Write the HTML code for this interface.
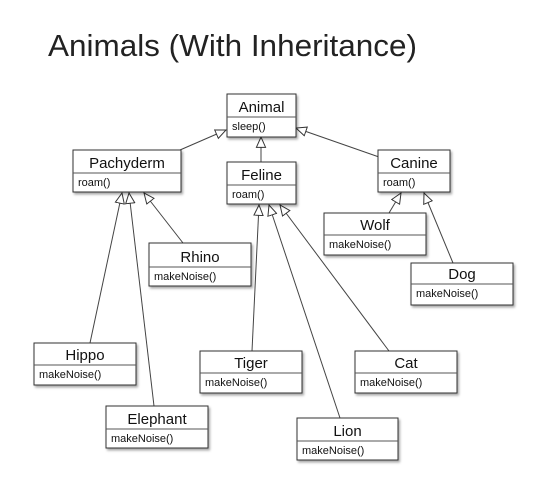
<!DOCTYPE html>
<html><head><meta charset="utf-8"><style>
html,body{margin:0;padding:0;background:#fff;}
svg{display:block;font-family:"Liberation Sans",Arial,sans-serif;}
</style></head><body>
<svg width="547" height="499" viewBox="0 0 547 499">
<defs>
<marker id="tri" markerWidth="12" markerHeight="12" refX="10" refY="5" orient="auto" markerUnits="userSpaceOnUse" viewBox="0 0 11 10">
<path d="M0.5,0.8 L10,5 L0.5,9.2 Z" fill="#fff" stroke="#333" stroke-width="0.9"/>
</marker>
<filter id="sh" x="-10%" y="-10%" width="130%" height="140%"><feDropShadow dx="1.5" dy="2" stdDeviation="1.2" flood-color="#000" flood-opacity="0.35"/></filter>
</defs>
<text x="48" y="56" font-size="31" fill="#222" textLength="369" lengthAdjust="spacingAndGlyphs">Animals (With Inheritance)</text>
<g id="links" stroke="#444" stroke-width="1" fill="none"></g>
<g id="boxes"></g>
<script>
const classes=[
["Animal","sleep()",227,94,296,137,117],
["Pachyderm","roam()",73,150,181,192,173],
["Feline","roam()",227,162,296,204,185],
["Canine","roam()",378,150,450,192,173],
["Wolf","makeNoise()",324,213,426,255,235],
["Rhino","makeNoise()",149,243,251,286,267],
["Dog","makeNoise()",411,263,513,305,284],
["Hippo","makeNoise()",34,343,136,385,365],
["Tiger","makeNoise()",200,351,302,393,373],
["Cat","makeNoise()",355,351,457,393,373],
["Elephant","makeNoise()",106,406,208,448,429],
["Lion","makeNoise()",297,418,398,460,441]
];
const links=[
[180,150,226,130],[261,162,261,137],[379,157,296,128],
[183,243,144,193],[90,343,122,193],[154,406,129,193],
[252,351,259,205],[340,418,269,205],[389,351,280,205],
[389,213,401,193],[453,263,424,193]
];
const NS="http://www.w3.org/2000/svg";
const lg=document.getElementById('links');
links.forEach(l=>{
const p=document.createElementNS(NS,'line');
p.setAttribute('x1',l[0]);p.setAttribute('y1',l[1]);p.setAttribute('x2',l[2]);p.setAttribute('y2',l[3]);
p.setAttribute('marker-end','url(#tri)');


lg.appendChild(p);
});
const bg=document.getElementById('boxes');
classes.forEach(c=>{
const [n,m,x1,y1,x2,y2,d]=c;
const g=document.createElementNS(NS,'g');


const r=document.createElementNS(NS,'rect');
r.setAttribute('x',x1);r.setAttribute('y',y1);r.setAttribute('width',x2-x1);r.setAttribute('height',y2-y1);
r.setAttribute('fill','#fff');r.setAttribute('stroke','#333');r.setAttribute('stroke-width','1');r.setAttribute('filter','url(#sh)');
g.appendChild(r);
const ln=document.createElementNS(NS,'line');
ln.setAttribute('x1',x1);ln.setAttribute('x2',x2);ln.setAttribute('y1',d);ln.setAttribute('y2',d);ln.setAttribute('stroke','#555');
g.appendChild(ln);
const t=document.createElementNS(NS,'text');
t.setAttribute('x',(x1+x2)/2);t.setAttribute('y',d-5);t.setAttribute('text-anchor','middle');t.setAttribute('font-size','15');t.setAttribute('fill','#111');
t.textContent=n;


g.appendChild(t);
const t2=document.createElementNS(NS,'text');
t2.setAttribute('x',x1+5);t2.setAttribute('y',d+13);t2.setAttribute('font-size','11');t2.setAttribute('fill','#111');
t2.textContent=m;


g.appendChild(t2);
bg.appendChild(g);
});
</script>
</svg>
</body></html>
